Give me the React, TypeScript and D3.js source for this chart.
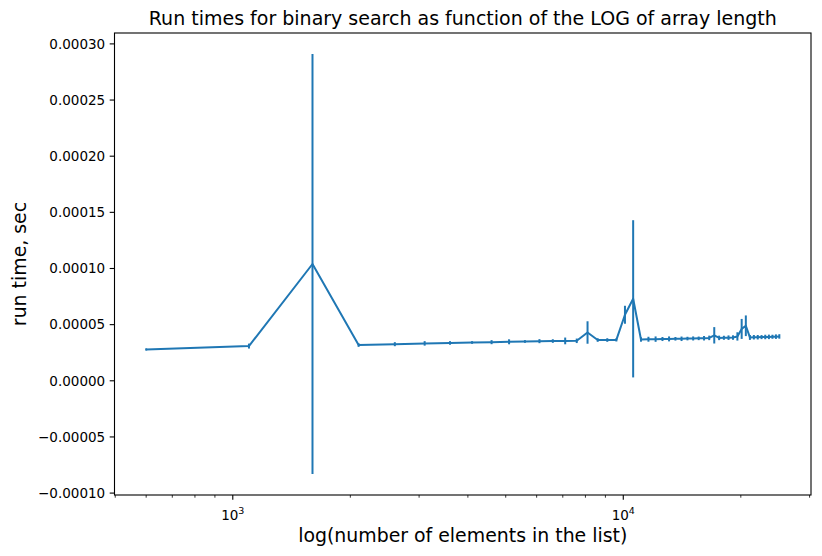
import * as d3 from "d3";

// array lengths tested
const sizes = [
  600, 1100, 1600, 2100, 2600, 3100, 3600, 4100, 4600, 5100,
  5600, 6100, 6600, 7100, 7600, 8100, 8600, 9100, 9600, 10100,
  10600, 11100, 11600, 12100, 12600, 13100, 13600, 14100, 14600, 15100,
  15600, 16100, 16600, 17100, 17600, 18100, 18600, 19100, 19600, 20100,
  20600, 21100, 21600, 22100, 22600, 23100, 23600, 24100, 24600, 25100,
];

// mean run time (sec)
const meanTimes = [
  2.79e-5, 3.09e-5, 1.04e-4, 3.18e-5, 3.26e-5, 3.33e-5, 3.37e-5, 3.41e-5, 3.44e-5, 3.47e-5,
  3.50e-5, 3.53e-5, 3.54e-5, 3.55e-5, 3.56e-5, 4.30e-5, 3.63e-5, 3.63e-5, 3.64e-5, 5.88e-5,
  7.30e-5, 3.68e-5, 3.70e-5, 3.71e-5, 3.72e-5, 3.73e-5, 3.74e-5, 3.74e-5, 3.76e-5, 3.77e-5,
  3.78e-5, 3.79e-5, 3.82e-5, 4.05e-5, 3.82e-5, 3.83e-5, 3.84e-5, 3.85e-5, 3.95e-5, 4.62e-5,
  4.90e-5, 3.86e-5, 3.88e-5, 3.88e-5, 3.89e-5, 3.90e-5, 3.91e-5, 3.92e-5, 3.93e-5, 3.95e-5,
];

// standard deviation (sec)
const stdTimes = [
  1.0e-6, 2.2e-6, 1.87e-4, 1.6e-6, 1.8e-6, 2.0e-6, 1.6e-6, 1.2e-6, 1.8e-6, 2.2e-6,
  1.2e-6, 1.8e-6, 1.6e-6, 3.0e-6, 2.0e-6, 1.0e-5, 1.6e-6, 1.6e-6, 1.4e-6, 8.0e-6,
  7.0e-5, 2.0e-6, 2.2e-6, 2.4e-6, 1.8e-6, 2.2e-6, 1.6e-6, 2.0e-6, 1.6e-6, 1.8e-6,
  1.6e-6, 2.0e-6, 2.0e-6, 7.3e-6, 2.0e-6, 1.8e-6, 2.0e-6, 2.0e-6, 3.7e-6, 8.9e-6,
  9.2e-6, 2.2e-6, 2.0e-6, 2.0e-6, 1.8e-6, 2.0e-6, 2.0e-6, 1.8e-6, 2.0e-6, 2.0e-6,
];

const yTicks = [-0.0001, -0.00005, 0, 0.00005, 0.0001, 0.00015, 0.0002, 0.00025, 0.0003];
const xMajor = [1000, 10000];
const xMajorExp = ["3", "4"];

const W = 822;
const H = 556;
const M = { top: 33, right: 11, bottom: 61, left: 114.5 };
const FONT = "DejaVu Sans, sans-serif";
const BLUE = "#1f77b4";

export default function App() {
  const data = sizes.map((n, i) => ({ n, m: meanTimes[i], s: stdTimes[i] }));

  // matplotlib-like 5% margins (in log space for x)
  const lx = d3.extent(sizes.map(Math.log10)) as [number, number];
  const px = (lx[1] - lx[0]) * 0.05;
  const x = d3.scaleLog()
    .domain([10 ** (lx[0] - px), 10 ** (lx[1] + px)])
    .range([M.left, W - M.right]);

  const lo = d3.min(data, d => d.m - d.s)!;
  const hi = d3.max(data, d => d.m + d.s)!;
  const py = (hi - lo) * 0.05;
  const y = d3.scaleLinear()
    .domain([lo - py, hi + py])
    .range([H - M.bottom, M.top]);

  const [x0, x1] = x.range();
  const [yb, yt] = y.range();

  const minor: number[] = [];
  for (let p = 100; p <= 100000; p *= 10) {
    for (let k = 2; k <= 9; k++) {
      const v = k * p;
      if (v >= x.domain()[0] && v <= x.domain()[1]) minor.push(v);
    }
  }

  const line = d3.line<typeof data[0]>()
    .x(d => x(d.n))
    .y(d => y(d.m));

  const fmt = (v: number) => {
    const s = Math.abs(v).toFixed(5);
    return v < -1e-12 ? "\u2212" + s : s;
  };

  return (
    <svg width={W} height={H} style={{ position: "absolute", left: 0, top: 0, background: "#fff" }}
      fontFamily={FONT}>
      <rect x={0} y={0} width={W} height={H} fill="#fff" />

      {/* error bars */}
      {data.map((d, i) => (
        <line key={"e" + i} x1={x(d.n)} x2={x(d.n)} y1={y(d.m - d.s)} y2={y(d.m + d.s)}
          stroke={BLUE} strokeWidth={2} />
      ))}
      <path d={line(data)!} fill="none" stroke={BLUE} strokeWidth={2} strokeLinejoin="round" />

      {/* spines */}
      <rect x={x0} y={yt} width={x1 - x0} height={yb - yt} fill="none" stroke="#000" strokeWidth={1.1} />

      {/* y ticks */}
      {yTicks.map((t, i) => (
        <g key={"y" + i}>
          <line x1={x0 - 4.8} x2={x0} y1={y(t)} y2={y(t)} stroke="#000" strokeWidth={1.1} />
          <text x={x0 - 9.3} y={y(t)} dy="0.35em" textAnchor="end" fontSize={13.5}>{fmt(t)}</text>
        </g>
      ))}

      {/* x minor ticks */}
      {minor.map((t, i) => (
        <line key={"m" + i} x1={x(t)} x2={x(t)} y1={yb} y2={yb + 2.7} stroke="#000" strokeWidth={0.8} />
      ))}
      {/* x major ticks */}
      {xMajor.map((t, i) => (
        <g key={"x" + i}>
          <line x1={x(t)} x2={x(t)} y1={yb} y2={yb + 4.8} stroke="#000" strokeWidth={1.1} />
          <text x={x(t)} y={yb + 25} textAnchor="middle" fontSize={13.5}>
            10<tspan fontSize={9.5} dy={-6}>{xMajorExp[i]}</tspan>
          </text>
        </g>
      ))}

      {/* labels */}
      <text x={(x0 + x1) / 2} y={25} textAnchor="middle" fontSize={19}>
        Run times for binary search as function of the LOG of array length
      </text>
      <text x={(x0 + x1) / 2} y={542} textAnchor="middle" fontSize={18.9}>
        log(number of elements in the list)
      </text>
      <text transform={`translate(26,${(yt + yb) / 2}) rotate(-90)`} textAnchor="middle" fontSize={18.9}>
        run time, sec
      </text>
    </svg>
  );
}
